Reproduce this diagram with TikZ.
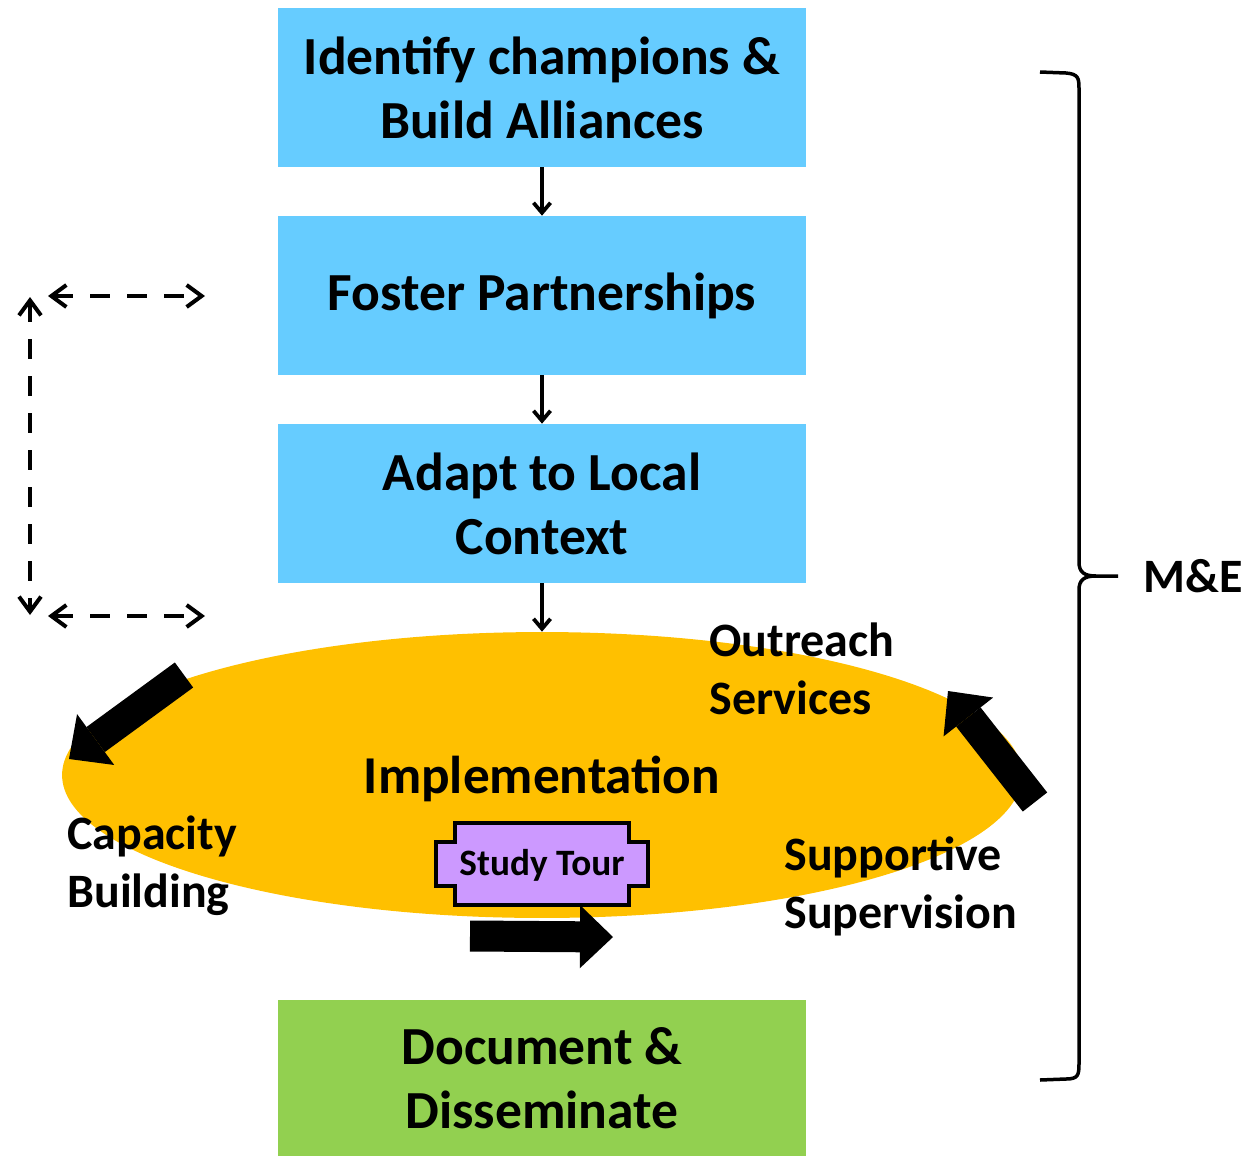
\documentclass[tikz,border=0pt]{standalone}
\usepackage{fontspec}
\setmainfont{Carlito}
\usetikzlibrary{arrows.meta,shapes.geometric}
\definecolor{stepblue}{HTML}{66CCFF}
\definecolor{implorange}{HTML}{FFC000}
\definecolor{docgreen}{HTML}{92D050}
\definecolor{tourpurple}{HTML}{CC99FF}
\tikzset{
  box/.style={rectangle, fill=stepblue, minimum width=10.56cm, minimum height=3.18cm,
    inner sep=0pt, align=center, font=\fontsize{30.5}{36.5}\selectfont\bfseries},
  lbl/.style={inner sep=0pt, align=left, font=\fontsize{27.3}{33}\selectfont\bfseries},
  flow/.style={line width=0.075cm, -{Straight Barb[length=0.2cm 0 0, width=0.34cm 0 0]}},
  dashflow/.style={line width=0.08cm, dash pattern=on 0.4cm off 0.34cm,
    {Straight Barb[length=0.3cm 0 0, width=0.44cm 0 0]}-{Straight Barb[length=0.3cm 0 0, width=0.44cm 0 0]}},
  bigarrow/.style={line width=0.62cm,
    -{Triangle[length=0.66cm 0 0, width=1.26cm 0 0, line width=0pt 0 0]}}
}
\begin{document}
\begin{tikzpicture}[x=0.02cm, y=-0.02cm]
  \useasboundingbox (0,0) rectangle (1245,1157);
  % steps
  \node[box] (champ) at (542,87.5) {Identify champions \&\\Build Alliances};
  \node[box] (partner) at (542,295.5) {Foster Partnerships};
  \node[box] (adapt) at (542,503.5) {Adapt to Local\\Context};
  \node[ellipse, fill=implorange, minimum width=19.2cm, minimum height=5.72cm, inner sep=0pt,
    text depth=0pt, font=\fontsize{30.3}{36.5}\selectfont\bfseries] (impl) at (542,775) {Implementation};
  \node[box, fill=docgreen, minimum height=3.12cm] (doc) at (542,1078) {Document \&\\Disseminate};
  \begin{scope}[flow]
    \draw (champ) -- (partner);
    \draw (partner) -- (adapt);
    \draw (adapt) -- (impl);
  \end{scope}
  % loop back
  \coordinate (lt) at (48,296);
  \coordinate (rt) at (205,296);
  \coordinate (lb) at (48,616);
  \coordinate (rb) at (205,616);
  \coordinate (vt) at (30,297);
  \coordinate (vb) at (30,615);
  \draw[dashflow] (lt) -- (rt);
  \draw[dashflow] (lb) -- (rb);
  \draw[dashflow] (vt) -- (vb);
  % activities
  \node[lbl, anchor=west] (outreach) at (709,669) {Outreach\\Services};
  \node[lbl, anchor=west] (capacity) at (67,866) {Capacity\\Building};
  \node[lbl, anchor=west] (support) at (784,886) {Supportive\\Supervision};
  \draw[fill=tourpurple, line width=0.08cm] (455,823) -- (629,823) -- (629,842) -- (648,842)
    -- (648,886) -- (629,886) -- (629,905) -- (455,905) -- (455,886) -- (436,886)
    -- (436,842) -- (455,842) -- cycle;
  \node[inner sep=0pt, font=\fontsize{21.2}{24}\selectfont\bfseries] (tour) at (542,865) {Study Tour};
  \coordinate (a1) at (184,675);
  \coordinate (a2) at (69,759);
  \coordinate (b1) at (1035,802);
  \coordinate (b2) at (948,691);
  \coordinate (c1) at (470,936);
  \coordinate (c2) at (613,937);
  \draw[bigarrow] (a1) -- (a2);
  \draw[bigarrow] (b1) -- (b2);
  \draw[bigarrow] (c1) -- (c2);
  % monitoring
  \draw[line width=0.07cm] (1040,72) -- (1066,73) .. controls (1078,74) and (1079,78) .. (1079,88)
    -- (1079,562) .. controls (1079,572) and (1084,576) .. (1096,576) -- (1118,576);
  \draw[line width=0.07cm] (1096,576) .. controls (1084,576) and (1079,580) .. (1079,590)
    -- (1079,1064) .. controls (1079,1075) and (1078,1079) .. (1066,1079) -- (1040,1080);
  \node[lbl, anchor=west] (me) at (1143,576) {M\&E};
\end{tikzpicture}
\end{document}
